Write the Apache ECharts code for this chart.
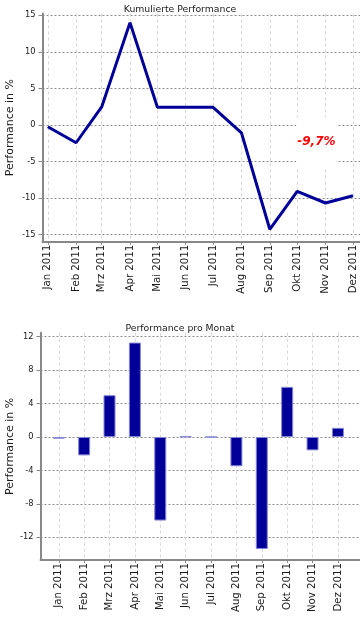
<!DOCTYPE html>
<html><head><meta charset="utf-8">
<script src="https://cdn.jsdelivr.net/npm/echarts@6.0.0/dist/echarts.min.js"></script>
<style>html,body{margin:0;padding:0;background:#fff}#c{width:360px;height:642px}</style>
</head><body><div id="c"></div>
<script>
const monthLabels = ['Jan 2011','Feb 2011','Mrz 2011','Apr 2011','Mai 2011','Jun 2011','Jul 2011','Aug 2011','Sep 2011','Okt 2011','Nov 2011','Dez 2011'];
const monthDates = ['2011-01-01','2011-02-01','2011-03-01','2011-04-01','2011-05-01','2011-06-01','2011-07-01','2011-08-01','2011-09-01','2011-10-01','2011-11-01','2011-12-01'];
const cumulative = [-0.25,-2.45,2.45,14.0,2.4,2.4,2.4,-1.1,-14.3,-9.1,-10.7,-9.7];
const monthly = [-0.2,-2.2,5.0,11.3,-10.0,0.05,0,-3.5,-13.4,6.0,-1.6,1.1];
const cumTicks = [-15,-10,-5,0,5,10,15];
const monthlyTicks = [-12,-8,-4,0,4,8,12];
const monthIdx = [0,1,2,3,4,5,6,7,8,9,10,11];
const titles = ['Kumulierte Performance','Performance pro Monat'];
const yName = 'Performance in %';
const annotation = {text:'-9,7%', date:'2011-10-22 00:00', value:-2.33};

const P = echarts.time.parse;
const dateTs = monthDates.map(d => +P(d));
const font = 'DejaVu Sans';
const txt = '#1a1a1a';
const hSplit = {show:true, lineStyle:{color:'#8c8c8c', type:[2,2], width:1}};
const vSplit = {show:true, lineStyle:{color:'#d6d6d6', type:[3,3], width:1}};
const aLine = {show:true, onZero:false, lineStyle:{color:'#888', width:2}};
const tickStyle = {color:'#888', width:1};

const chart = echarts.init(document.getElementById('c'));
chart.setOption({
  animation:false,
  backgroundColor:'#fff',
  title:[
    {text:titles[0], left:'center', top:0, textStyle:{fontFamily:font,fontSize:9.3,fontWeight:'normal',color:txt}},
    {text:titles[1], left:'center', top:319, textStyle:{fontFamily:font,fontSize:9.3,fontWeight:'normal',color:txt}}
  ],
  grid:[
    {left:42.5, right:0, top:13.5, height:228.2, containLabel:false, outerBoundsMode:'none'},
    {left:40.5, right:0, top:332.7, height:227.3, containLabel:false, outerBoundsMode:'none'}
  ],
  xAxis:[
    {type:'value', gridIndex:0, min:+P('2010-12-26 05:00'), max:+P('2011-12-08 18:00'),
     axisLine:aLine,
     axisTick:{show:true, customValues:dateTs, length:3, lineStyle:tickStyle},
     axisLabel:{customValues:dateTs, rotate:90, margin:3, fontFamily:font, fontSize:10.2, color:txt,
       formatter:v => monthLabels[dateTs.indexOf(+v)] || ''},
     splitLine:vSplit},
    {type:'value', gridIndex:1, min:-0.72, max:11.87,
     axisLine:aLine,
     axisTick:{show:true, customValues:monthIdx, length:3, lineStyle:tickStyle},
     axisLabel:{customValues:monthIdx, rotate:90, margin:3, fontFamily:font, fontSize:10.2, color:txt,
       formatter:v => monthLabels[v] || ''},
     splitLine:vSplit}
  ],
  yAxis:[
    {type:'value', gridIndex:0, min:-16, max:15.25,
     name:yName, nameLocation:'middle', nameGap:27, nameMoveOverlap:false,
     nameTextStyle:{fontFamily:font,fontSize:11,color:txt},
     axisLine:aLine,
     axisTick:{show:true, customValues:cumTicks, length:4, lineStyle:tickStyle},
     axisLabel:{customValues:cumTicks, margin:7, fontFamily:font, fontSize:8.3, color:txt},
     splitLine:hSplit},
    {type:'value', gridIndex:1, min:-14.72, max:12.48,
     name:yName, nameLocation:'middle', nameGap:25, nameMoveOverlap:false,
     nameTextStyle:{fontFamily:font,fontSize:11,color:txt},
     axisLine:aLine,
     axisTick:{show:true, customValues:monthlyTicks, length:4, lineStyle:tickStyle},
     axisLabel:{customValues:monthlyTicks, margin:7, fontFamily:font, fontSize:8.3, color:txt},
     splitLine:hSplit}
  ],
  series:[
    {type:'line', xAxisIndex:0, yAxisIndex:0,
     data:dateTs.map((t,i)=>[t,cumulative[i]]),
     symbol:'none', lineStyle:{color:'#000099', width:3}, itemStyle:{color:'#000099'},
     markPoint:{symbol:'rect', symbolSize:0, silent:true,
       data:[{coord:[+P(annotation.date), annotation.value]}],
       label:{show:true, position:'inside', formatter:annotation.text, color:'#ff0000',
         fontFamily:font, fontSize:12, fontWeight:'bold', fontStyle:'italic',
         backgroundColor:'#ffffff', padding:[8,1,27,1], lineHeight:14}}
    },
    {type:'bar', xAxisIndex:1, yAxisIndex:1,
     data:monthly.map((v,i)=>[monthIdx[i],v]),
     barWidth:12, itemStyle:{color:'#000099', borderColor:'#8585d6', borderWidth:1}}
  ]
});
</script>
</body></html>
